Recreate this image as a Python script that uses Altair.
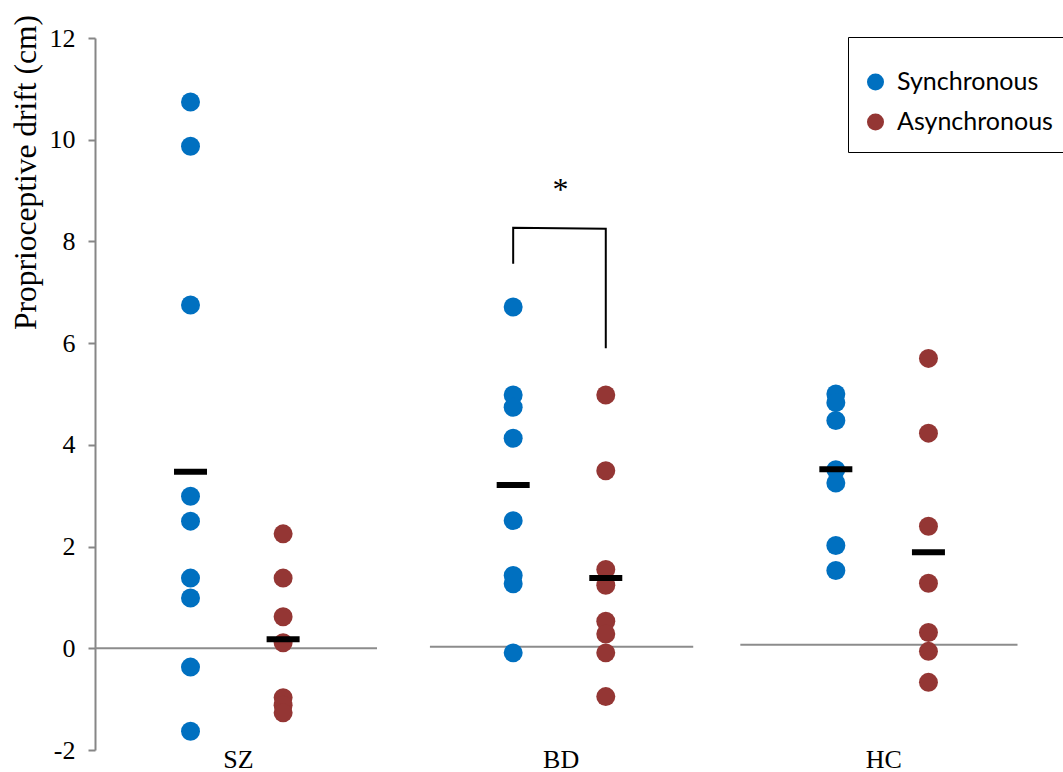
import altair as alt
import pandas as pd

# ---------------- data ----------------
groups = ["SZ", "BD", "HC"]
conditions = ["Synchronous", "Asynchronous"]

sz_sync = [10.74, 9.87, 6.75, 2.99, 2.50, 1.38, 0.99, -0.37, -1.63]
sz_async = [2.25, 1.38, 0.62, 0.11, -0.97, -1.12, -1.27]
bd_sync = [6.71, 4.98, 4.74, 4.13, 2.51, 1.43, 1.27, -0.09]
bd_async = [4.98, 3.49, 1.55, 1.24, 0.53, 0.28, -0.09, -0.95]
hc_sync = [5.00, 4.83, 4.48, 3.51, 3.25, 2.02, 1.53]
hc_async = [5.70, 4.23, 2.40, 1.28, 0.31, -0.06, -0.67]

mean_sync = [3.47, 3.21, 3.52]
mean_async = [0.18, 1.38, 1.89]

# zero-level axis segments drawn under each group (level, left end, right end)
zero_level = [0.0, 0.03, 0.07]
zero_lo = [0.557, 1.595, 2.557]
zero_hi = [1.431, 2.411, 3.416]

# significance bracket for BD (left leg bottom, left top, right top, right leg bottom)
bracket_group = "BD"
bracket_y = [7.56, 8.27, 8.25, 5.90]
star_y = 8.82
y_ticks = [-2, 0, 2, 4, 6, 8, 10, 12]

# ---------------- layout helpers ----------------
cond_offset = {"Synchronous": -0.147, "Asynchronous": 0.14}
series = {
    ("SZ", "Synchronous"): sz_sync, ("SZ", "Asynchronous"): sz_async,
    ("BD", "Synchronous"): bd_sync, ("BD", "Asynchronous"): bd_async,
    ("HC", "Synchronous"): hc_sync, ("HC", "Asynchronous"): hc_async,
}

pts = []
for (g, c), vals in series.items():
    for v in vals:
        pts.append({"group": g, "condition": c, "value": v,
                    "xpos": groups.index(g) + 1 + cond_offset[c]})
pts_df = pd.DataFrame(pts)

means = []
for i, g in enumerate(groups):
    means.append({"group": g, "condition": "Synchronous", "value": mean_sync[i],
                  "xpos": i + 1 + cond_offset["Synchronous"]})
    means.append({"group": g, "condition": "Asynchronous", "value": mean_async[i],
                  "xpos": i + 1 + cond_offset["Asynchronous"]})
means_df = pd.DataFrame(means)

zero_df = pd.DataFrame({"lo": zero_lo, "hi": zero_hi, "y": zero_level})

bi = groups.index(bracket_group) + 1
bx = [bi + cond_offset["Synchronous"], bi + cond_offset["Synchronous"],
      bi + cond_offset["Asynchronous"], bi + cond_offset["Asynchronous"]]
bracket_df = pd.DataFrame({"x": bx, "y": bracket_y, "step": [0, 1, 2, 3]})
star_df = pd.DataFrame({"x": [bi], "y": [star_y], "t": ["*"]})

SERIF = "Liberation Serif"
xscale = alt.Scale(domain=[0.557, 3.557], nice=False, zero=False)
yscale = alt.Scale(domain=[-2, 12], nice=False, zero=False)

x_axis = alt.Axis(values=[1, 2, 3], labelExpr="['', 'SZ', 'BD', 'HC'][datum.value]",
                  ticks=False, domain=False, grid=False, labelFont=SERIF,
                  labelFontSize=26, labelColor="black", labelPadding=-4, title=None)
y_axis = alt.Axis(values=y_ticks, grid=False, domainColor="#868686", domainWidth=2,
                  tickColor="#868686", tickWidth=2, tickSize=7, labelFont=SERIF,
                  labelExpr="datum.value < 0 ? '-' + abs(datum.value) : '' + datum.value",
                  labelFontSize=26, labelColor="black", labelPadding=13,
                  title="Proprioceptive drift (cm)", titleFont=SERIF, titleFontSize=31.5,
                  titleFontWeight="normal", titleColor="black", titleAngle=270,
                  titleX=-60, titleY=134, titleAlign="center", titleBaseline="alphabetic")

zero_rules = alt.Chart(zero_df).mark_rule(color="#8c8c8c", strokeWidth=2).encode(
    x=alt.X("lo:Q", scale=xscale, axis=x_axis),
    x2="hi:Q",
    y=alt.Y("y:Q", scale=yscale, axis=y_axis),
)

points = alt.Chart(pts_df).mark_circle(size=360, opacity=1).encode(
    x=alt.X("xpos:Q", scale=xscale),
    y=alt.Y("value:Q", scale=yscale),
    color=alt.Color("condition:N",
                    scale=alt.Scale(domain=conditions, range=["#0070C0", "#943634"]),
                    legend=alt.Legend(title=" ", titleFontSize=8, titlePadding=7,
                                      orient="none", legendX=753, legendY=-1,
                                      strokeColor="black", fillColor="white",
                                      padding=10, symbolOffset=5,
                                      symbolType="circle", symbolSize=290,
                                      symbolStrokeWidth=0,
                                      labelFont="Lato", labelFontSize=25,
                                      labelColor="black", labelOffset=9,
                                      clipHeight=40, rowPadding=0)),
)

mean_ticks = alt.Chart(means_df).mark_tick(orient="horizontal", size=33, thickness=6,
                                           color="black", opacity=1).encode(
    x=alt.X("xpos:Q", scale=xscale),
    y=alt.Y("value:Q", scale=yscale),
)

bracket = alt.Chart(bracket_df).mark_line(color="black", strokeWidth=2).encode(
    x=alt.X("x:Q", scale=xscale),
    y=alt.Y("y:Q", scale=yscale),
    order="step:Q",
)

star = alt.Chart(star_df).mark_text(font=SERIF, fontSize=32, baseline="alphabetic",
                                    color="black").encode(
    x=alt.X("x:Q", scale=xscale),
    y=alt.Y("y:Q", scale=yscale),
    text="t:N",
)

chart = alt.layer(zero_rules, points, mean_ticks, bracket, star).properties(
    width=968, height=712,
    autosize=alt.AutoSizeParams(type="none"),
    padding={"left": 95, "top": 38, "right": 0, "bottom": 22},
    background="white",
).configure_view(stroke=None)

chart.save("out.html", embed_options={"renderer": "svg", "actions": False})
